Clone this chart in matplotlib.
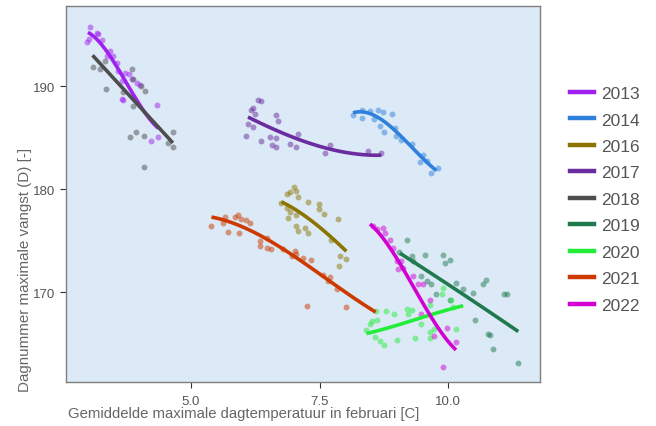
import numpy as np
import matplotlib
matplotlib.use("Agg")
import matplotlib.pyplot as plt
from matplotlib.lines import Line2D

plt.rcParams['font.family'] = ['Liberation Sans', 'DejaVu Sans']

years = ['2013', '2014', '2016', '2017', '2018', '2019', '2020', '2021', '2022']
colors = {
    '2013': '#A020F0', '2014': '#2F80DC', '2016': '#8B7500', '2017': '#6A2C9E',
    '2018': '#4D4D4D', '2019': '#1F7A4E', '2020': '#22EE3A', '2021': '#CD3A00',
    '2022': '#D200D2',
}

# scatter points (temperature, day number)
pts_2013_x = [3.05, 2.99, 3.03, 3.17, 3.20, 3.28, 3.43, 3.38, 3.49, 3.56, 3.59, 3.72, 3.79,
              3.66, 3.95, 4.01, 3.85, 3.67, 4.35, 4.22, 4.37, 3.69]
pts_2013_y = [195.7, 194.3, 194.6, 195.2, 195.1, 194.5, 193.4, 192.9, 192.9, 192.3, 191.5, 191.3, 191.2,
              190.5, 190.3, 190.1, 190.7, 188.8, 188.2, 184.7, 185.1, 188.7]
pts_2014_x = [8.15, 8.32, 8.32, 8.48, 8.55, 8.64, 8.74, 8.90, 8.67, 8.75, 8.96, 8.99, 9.09, 9.29,
              9.51, 9.45, 9.67, 9.80, 9.58]
pts_2014_y = [187.2, 187.7, 186.9, 187.6, 186.8, 187.7, 187.5, 187.3, 186.1, 185.6, 185.9, 185.2, 184.8, 184.4,
              183.3, 182.6, 181.6, 182.1, 182.7]
pts_2016_x = [7.00, 6.92, 7.05, 6.87, 6.76, 6.86, 6.92, 6.89, 7.05, 7.28, 7.49, 7.49, 7.58, 7.86,
              7.05, 7.09, 7.21, 7.28, 7.73, 7.89, 8.02, 7.88, 7.09]
pts_2016_y = [180.2, 179.7, 179.8, 179.5, 178.7, 178.2, 177.8, 177.2, 177.5, 178.8, 178.6, 178.1, 177.6, 177.1,
              176.4, 176.0, 176.2, 175.8, 175.1, 173.5, 173.2, 172.6, 179.3]
pts_2017_x = [6.31, 6.37, 6.16, 6.21, 6.24, 6.11, 6.21, 6.08, 6.37, 6.53, 6.66, 6.66, 6.70, 6.57,
              6.66, 6.92, 7.08, 7.05, 7.70, 7.60, 8.44, 8.70]
pts_2017_y = [188.7, 188.6, 187.7, 187.9, 187.3, 186.3, 186.0, 185.2, 184.7, 185.1, 185.0, 187.2, 186.6, 184.3,
              184.1, 184.4, 185.4, 184.1, 184.3, 183.5, 183.7, 183.5]
pts_2018_x = [3.09, 3.23, 3.33, 3.36, 3.85, 3.88, 4.04, 4.11, 3.88, 3.69, 3.93, 3.82, 4.08, 4.65,
              4.66, 4.09, 4.56]
pts_2018_y = [191.9, 191.7, 192.4, 189.7, 191.7, 190.7, 190.0, 189.5, 188.1, 189.4, 185.6, 185.1, 185.2, 185.6,
              184.1, 182.2, 184.5]
pts_2019_x = [9.20, 9.05, 9.29, 9.32, 9.55, 9.90, 9.93, 10.03, 9.48, 9.58, 9.67, 9.77, 10.16, 10.29,
              10.48, 10.68, 10.74, 11.08, 11.14, 10.52, 10.77, 10.82, 10.87, 11.36, 10.03]
pts_2019_y = [175.1, 173.9, 173.5, 173.0, 173.6, 173.6, 172.8, 173.1, 171.6, 171.1, 170.8, 169.8, 170.9, 170.3,
              169.9, 170.8, 171.2, 169.8, 169.8, 167.3, 166.0, 165.9, 164.5, 163.1, 169.3]
pts_2020_x = [8.59, 8.79, 8.95, 9.19, 9.29, 9.22, 8.51, 8.62, 8.48, 8.40, 8.57, 8.67, 8.75, 9.00,
              9.35, 9.48, 9.64, 9.65, 9.72, 9.87, 9.89, 10.06, 10.09, 10.15, 9.64]
pts_2020_y = [168.2, 168.2, 167.9, 168.4, 168.3, 167.9, 167.2, 167.3, 166.9, 166.3, 165.7, 165.3, 164.9, 165.4,
              165.6, 166.9, 166.2, 165.6, 166.4, 169.8, 170.4, 169.3, 168.6, 166.4, 168.8]
pts_2021_x = [5.40, 5.63, 5.66, 5.73, 5.86, 5.92, 5.97, 5.94, 6.08, 6.15, 6.34, 6.34, 6.48, 6.48,
              6.55, 6.79, 6.96, 7.02, 7.05, 7.17, 7.33, 7.57, 7.71, 7.67, 7.83, 7.25, 8.01]
pts_2021_y = [176.4, 176.7, 177.3, 175.9, 177.3, 177.5, 177.1, 175.8, 177.0, 176.7, 175.0, 174.5, 175.3, 174.3,
              174.2, 174.2, 173.5, 174.0, 173.7, 173.3, 173.1, 171.7, 171.5, 171.1, 170.3, 168.7, 168.6]
pts_2022_x = [8.54, 8.61, 8.74, 8.77, 8.87, 8.93, 9.00, 9.09, 9.12, 9.03, 9.32, 9.42, 9.51, 9.64,
              9.48, 9.98, 9.72, 10.16, 9.89]
pts_2022_y = [176.4, 176.1, 176.2, 175.8, 175.1, 174.3, 173.0, 173.0, 172.4, 172.3, 171.6, 170.8, 170.8, 169.3,
              167.9, 166.5, 165.8, 165.2, 162.8]

# smoothed trend per year
trend_2013_x = [3.00, 3.30, 3.62, 3.95, 4.37]
trend_2013_y = [195.2, 193.9, 191.3, 188.7, 185.9]
trend_2014_x = [8.15, 8.38, 8.67, 8.99, 9.32, 9.77]
trend_2014_y = [187.4, 187.5, 186.9, 185.5, 184.0, 181.8]
trend_2016_x = [6.76, 7.05, 7.38, 7.70, 8.02]
trend_2016_y = [178.8, 177.9, 176.9, 175.4, 174.0]
trend_2017_x = [6.11, 6.73, 7.38, 8.02, 8.70]
trend_2017_y = [187.0, 185.6, 184.3, 183.6, 183.3]
trend_2018_x = [3.09, 4.65]
trend_2018_y = [193.0, 184.5]
trend_2019_x = [9.06, 10.29, 11.36]
trend_2019_y = [173.8, 169.8, 166.2]
trend_2020_x = [8.41, 8.93, 9.58, 10.29]
trend_2020_y = [166.0, 166.7, 167.7, 168.7]
trend_2021_x = [5.40, 5.95, 6.47, 6.99, 7.51, 8.02, 8.59]
trend_2021_y = [177.3, 176.5, 175.1, 173.6, 171.8, 169.9, 168.1]
trend_2022_x = [8.48, 8.74, 9.06, 9.38, 9.64, 9.90, 10.15]
trend_2022_y = [176.6, 175.3, 172.7, 170.1, 167.8, 165.9, 164.4]

pts = {
    '2013': (pts_2013_x, pts_2013_y), '2014': (pts_2014_x, pts_2014_y),
    '2016': (pts_2016_x, pts_2016_y), '2017': (pts_2017_x, pts_2017_y),
    '2018': (pts_2018_x, pts_2018_y), '2019': (pts_2019_x, pts_2019_y),
    '2020': (pts_2020_x, pts_2020_y), '2021': (pts_2021_x, pts_2021_y),
    '2022': (pts_2022_x, pts_2022_y),
}
trends = {
    '2013': (trend_2013_x, trend_2013_y), '2014': (trend_2014_x, trend_2014_y),
    '2016': (trend_2016_x, trend_2016_y), '2017': (trend_2017_x, trend_2017_y),
    '2018': (trend_2018_x, trend_2018_y), '2019': (trend_2019_x, trend_2019_y),
    '2020': (trend_2020_x, trend_2020_y), '2021': (trend_2021_x, trend_2021_y),
    '2022': (trend_2022_x, trend_2022_y),
}

fig = plt.figure(figsize=(6.56, 4.27), dpi=100)
ax = fig.add_axes([0.1006, 0.103, 0.7224, 0.881])
ax.set_facecolor('#DCE9F6')

for yr in years:
    px, py = pts[yr]
    ax.scatter(px, py, s=18, color=colors[yr], alpha=0.5, linewidths=0, zorder=2)

for yr in years:
    tx, ty = trends[yr]
    deg = min(3, len(tx) - 1)
    coef = np.polyfit(tx, ty, deg)
    xs = np.linspace(tx[0], tx[-1], 60)
    ax.plot(xs, np.polyval(coef, xs), color=colors[yr], lw=2.6, solid_capstyle='butt', zorder=3)

ax.set_xlim(2.574, 11.78)
ax.set_ylim(161.3, 197.8)
ax.set_xticks([5.0, 7.5, 10.0])
ax.set_xticklabels(['5.0', '7.5', '10.0'])
ax.set_yticks([170, 180, 190])
ax.tick_params(colors='#333333', labelcolor='#555555', labelsize=9.5, length=4, width=0.8)
ax.tick_params(axis='x', pad=5)
for sp in ax.spines.values():
    sp.set_color('#7F7F7F')
    sp.set_linewidth(1.0)

ax.set_xlabel('Gemiddelde maximale dagtemperatuur in februari [C]', fontsize=10.7, color='#666666',
              loc='left')
ax.xaxis.set_label_coords(0.004, -0.065)
ax.set_ylabel('Dagnummer maximale vangst (D) [-]', fontsize=10.9, color='#666666')
ax.yaxis.set_label_coords(-0.072, 0.3)

handles = [Line2D([0], [0], color=colors[yr], lw=3.2) for yr in years]
fig.legend(handles, years, loc='center left', bbox_to_anchor=(0.845, 0.531), frameon=False,
           fontsize=12.5, labelcolor='#555555', handlelength=1.4, handletextpad=0.4,
           labelspacing=0.65)

fig.savefig('out.png', dpi=100)
